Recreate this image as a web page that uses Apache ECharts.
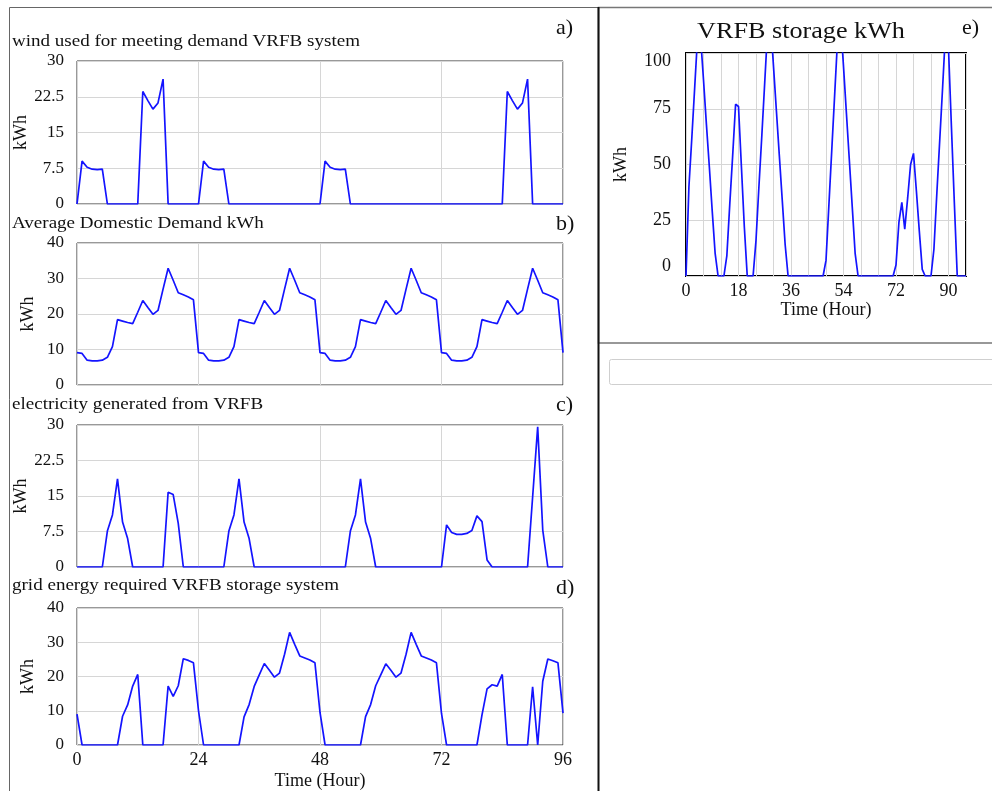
<!DOCTYPE html>
<html>
<head>
<meta charset="utf-8">
<script src="https://cdn.jsdelivr.net/npm/echarts@6/dist/echarts.min.js"></script>
<style>
html, body { margin: 0; padding: 0; background: #fff; }
#main { width: 992px; height: 791px; }
</style>
</head>
<body>
<div id="main"></div>
<script>
// Simulation time axis (hours)
const hours = [
  0, 1, 2, 3, 4, 5, 6, 7, 8, 9, 10, 11, 12, 13, 14, 15, 16, 17, 18, 19, 20, 21, 22, 23,
  24, 25, 26, 27, 28, 29, 30, 31, 32, 33, 34, 35, 36, 37, 38, 39, 40, 41, 42, 43, 44, 45, 46, 47,
  48, 49, 50, 51, 52, 53, 54, 55, 56, 57, 58, 59, 60, 61, 62, 63, 64, 65, 66, 67, 68, 69, 70, 71,
  72, 73, 74, 75, 76, 77, 78, 79, 80, 81, 82, 83, 84, 85, 86, 87, 88, 89, 90, 91, 92, 93, 94, 95,
  96
];

// a) wind used for meeting demand (kWh)
const windUsed = [
  0, 9.0, 7.7, 7.3, 7.2, 7.3, 0, 0, 0, 0, 0, 0, 0, 23.6, 21.7, 19.9, 21.2, 26.2, 0, 0, 0, 0, 0, 0,
  0, 9.0, 7.7, 7.3, 7.2, 7.3, 0, 0, 0, 0, 0, 0, 0, 0, 0, 0, 0, 0, 0, 0, 0, 0, 0, 0,
  0, 9.0, 7.7, 7.3, 7.2, 7.3, 0, 0, 0, 0, 0, 0, 0, 0, 0, 0, 0, 0, 0, 0, 0, 0, 0, 0,
  0, 0, 0, 0, 0, 0, 0, 0, 0, 0, 0, 0, 0, 23.6, 21.7, 19.9, 21.2, 26.2, 0, 0, 0, 0, 0, 0,
  0
];

// b) average domestic demand (kWh)
const demand = [
  9.1, 8.9, 7.0, 6.8, 6.8, 7.0, 7.8, 10.8, 18.4, 18.0, 17.6, 17.3, 20.5, 23.8, 21.8, 19.9, 21.0, 27.0, 32.9, 29.5, 26.0, 25.4, 24.8, 24.0,
  9.1, 8.9, 7.0, 6.8, 6.8, 7.0, 7.8, 10.8, 18.4, 18.0, 17.6, 17.3, 20.5, 23.8, 21.8, 19.9, 21.0, 27.0, 32.9, 29.5, 26.0, 25.4, 24.8, 24.0,
  9.1, 8.9, 7.0, 6.8, 6.8, 7.0, 7.8, 10.8, 18.4, 18.0, 17.6, 17.3, 20.5, 23.8, 21.8, 19.9, 21.0, 27.0, 32.9, 29.5, 26.0, 25.4, 24.8, 24.0,
  9.1, 8.9, 7.0, 6.8, 6.8, 7.0, 7.8, 10.8, 18.4, 18.0, 17.6, 17.3, 20.5, 23.8, 21.8, 19.9, 21.0, 27.0, 32.9, 29.5, 26.0, 25.4, 24.8, 24.0,
  9.1
];

// c) electricity generated from VRFB (kWh)
const vrfbOutput = [
  0, 0, 0, 0, 0, 0, 7.6, 11.0, 18.6, 9.5, 6.0, 0, 0, 0, 0, 0, 0, 0, 15.8, 15.3, 9.2, 0, 0, 0,
  0, 0, 0, 0, 0, 0, 7.6, 11.0, 18.6, 9.5, 6.0, 0, 0, 0, 0, 0, 0, 0, 0, 0, 0, 0, 0, 0,
  0, 0, 0, 0, 0, 0, 7.6, 11.0, 18.6, 9.5, 6.0, 0, 0, 0, 0, 0, 0, 0, 0, 0, 0, 0, 0, 0,
  0, 8.9, 7.3, 6.9, 6.9, 7.1, 7.7, 10.8, 9.6, 1.5, 0, 0, 0, 0, 0, 0, 0, 0, 14.8, 29.6, 7.8, 0, 0, 0,
  0
];

// d) grid energy required with VRFB storage (kWh)
const gridEnergy = [
  9.0, 0, 0, 0, 0, 0, 0, 0, 0, 8.4, 11.7, 17.2, 20.6, 0, 0, 0, 0, 0, 17.2, 14.2, 17.3, 25.2, 24.7, 24.0,
  10.0, 0, 0, 0, 0, 0, 0, 0, 0, 8.2, 11.8, 17.1, 20.5, 23.8, 21.8, 19.8, 21.0, 26.5, 32.9, 29.4, 26.0, 25.4, 24.8, 24.0,
  9.5, 0, 0, 0, 0, 0, 0, 0, 0, 8.3, 11.8, 17.3, 20.5, 23.7, 21.8, 19.8, 21.0, 26.5, 32.9, 29.4, 26.0, 25.4, 24.8, 24.0,
  9.2, 0, 0, 0, 0, 0, 0, 0, 8.8, 16.4, 17.6, 17.2, 20.6, 0, 0, 0, 0, 0, 17.0, 0, 18.6, 25.1, 24.6, 24.0,
  9.3
];

// e) VRFB storage level (kWh); peaks above the 100 kWh axis limit are clipped
const storage = [
  0, 40, 62, 85, 108, 107, 88, 68, 49, 29, 10, 0, 0, 0, 9, 32, 54, 77, 76, 49, 22, 0, 0, 0,
  16, 40, 63, 87, 111, 114, 94, 74, 54, 34, 14, 0, 0, 0, 0, 0, 0, 0, 0, 0, 0, 0, 0, 0,
  7, 32, 57, 82, 107, 114, 94, 73, 52, 31, 10, 0, 0, 0, 0, 0, 0, 0, 0, 0, 0, 0, 0, 0,
  5, 24, 33, 21, 35, 50, 55, 38, 20, 3, 0, 0, 0, 12, 37, 61, 85, 110, 102, 67, 33, 0, 0, 0,
  0
];

const SERIF = '"Liberation Serif", "Times New Roman", serif';
const INK = '#111';
const LINE = '#1414ff';
const GRIDLINE = '#d6d6d6';

const pair = arr => hours.map((h, i) => [h, arr[i]]);

const leftPanels = [
  { top: 61,  height: 143, max: 30, step: 7.5, data: windUsed },
  { top: 243, height: 142, max: 40, step: 10,  data: demand },
  { top: 425, height: 142, max: 30, step: 7.5, data: vrfbOutput },
  { top: 608, height: 140, max: 40, step: 10,  data: gridEnergy }
];

const grids = [];
const xAxes = [];
const yAxes = [];
const series = [];

leftPanels.forEach((p, i) => {
  const last = i === leftPanels.length - 1;
  grids.push({
    left: 77, top: p.top, width: 486, height: p.height,
    show: true, borderColor: '#333', borderWidth: 1, backgroundColor: 'transparent'
  });
  xAxes.push({
    gridIndex: i, type: 'value', min: 0, max: 96, interval: 24,
    axisLine: { show: false }, axisTick: { show: false },
    splitLine: { show: true, lineStyle: { color: GRIDLINE, width: 1 } },
    axisLabel: { show: last, fontFamily: SERIF, fontSize: 18, color: INK, margin: 6 },
    name: last ? 'Time (Hour)' : '',
    nameLocation: 'middle', nameGap: 27,
    nameTextStyle: { fontFamily: SERIF, fontSize: 18, color: INK }
  });
  yAxes.push({
    gridIndex: i, type: 'value', min: 0, max: p.max, interval: p.step,
    axisLine: { show: false }, axisTick: { show: false },
    splitLine: { show: true, lineStyle: { color: GRIDLINE, width: 1 } },
    axisLabel: { fontFamily: SERIF, fontSize: 17, color: INK, margin: 13 },
    name: 'kWh', nameLocation: 'middle', nameRotate: 90, nameGap: 40,
    nameTextStyle: { fontFamily: SERIF, fontSize: 18, color: INK }
  });
  series.push({
    type: 'line', xAxisIndex: i, yAxisIndex: i, data: pair(p.data),
    showSymbol: false, symbol: 'none', clip: true,
    lineStyle: { color: LINE, width: 1.7 }
  });
});

// Storage panel (e)
grids.push({
  left: 686, top: 53, width: 280, height: 223,
  show: true, borderColor: '#000', borderWidth: 2, backgroundColor: 'transparent'
});
xAxes.push({
  gridIndex: 4, type: 'value', min: 0, max: 96, interval: 6,
  axisLine: { show: false }, axisTick: { show: false },
  splitLine: { show: true, lineStyle: { color: GRIDLINE, width: 1 } },
  axisLabel: {
    fontFamily: SERIF, fontSize: 18, color: INK, margin: 6,
    formatter: v => (v % 18 === 0 && v < 96 ? String(v) : '')
  },
  name: 'Time (Hour)', nameLocation: 'middle', nameGap: 25,
  nameTextStyle: { fontFamily: SERIF, fontSize: 18, color: INK }
});
yAxes.push({
  gridIndex: 4, type: 'value', min: 0, max: 100, interval: 25,
  axisLine: { show: false }, axisTick: { show: false },
  splitLine: { show: true, lineStyle: { color: GRIDLINE, width: 1 } },
  axisLabel: {
    fontFamily: SERIF, fontSize: 18, color: INK, margin: 15,
    formatter: v => (v === 100 ? '{top|100}' : v === 0 ? '{bot|0}' : String(v)),
    rich: {
      top: { fontFamily: SERIF, fontSize: 18, color: INK, padding: [16, 0, 0, 0] },
      bot: { fontFamily: SERIF, fontSize: 18, color: INK, padding: [0, 0, 20, 0] }
    }
  },
  name: 'kWh', nameLocation: 'middle', nameRotate: 90, nameGap: 56,
  nameTextStyle: { fontFamily: SERIF, fontSize: 18, color: INK }
});
series.push({
  type: 'line', xAxisIndex: 4, yAxisIndex: 4, data: pair(storage),
  showSymbol: false, symbol: 'none', clip: true,
  lineStyle: { color: LINE, width: 1.7 }
});

// Text helper; stretch widens the lettering horizontally
const label = (text, x, y, size, align, stretch) => ({
  type: 'text', x: x, y: y, silent: true,
  scaleX: stretch || 1, scaleY: 1,
  style: {
    text: text, font: size + 'px ' + SERIF, fill: INK,
    textAlign: align || 'left', textVerticalAlign: 'middle',
    align: align || 'left', verticalAlign: 'middle'
  }
});

const graphics = [
  // page frames
  { type: 'rect', silent: true, shape: { x: 9.5, y: 7.5, width: 589, height: 800 },
    style: { fill: 'none', stroke: '#666', lineWidth: 1 } },
  { type: 'rect', silent: true, shape: { x: 598.5, y: 7.5, width: 400, height: 335.5 },
    style: { fill: 'none', stroke: '#777', lineWidth: 1.5 } },
  { type: 'line', silent: true, shape: { x1: 598.5, y1: 7, x2: 598.5, y2: 791 },
    style: { stroke: '#111', lineWidth: 2 } },
  { type: 'rect', silent: true, shape: { x: 609.5, y: 359.5, width: 390, height: 25, r: 2 },
    style: { fill: '#fff', stroke: '#cfcfcf', lineWidth: 1 } },
  // panel titles and letters
  label('wind used for meeting demand VRFB system', 12, 42, 17, 'left', 1.12),
  label('a)', 556, 28, 22),
  label('Average Domestic Demand kWh', 12, 224, 17, 'left', 1.12),
  label('b)', 556, 224, 22),
  label('electricity generated from VRFB', 12, 405, 17, 'left', 1.12),
  label('c)', 556, 405, 22),
  label('grid energy required VRFB storage system', 12, 586, 17, 'left', 1.12),
  label('d)', 556, 588, 22),
  label('VRFB storage kWh', 801, 32, 24, 'center', 1.09),
  label('e)', 962, 28, 22)
];

const chart = echarts.init(document.getElementById('main'), null, { renderer: 'canvas' });
chart.setOption({
  animation: false,
  backgroundColor: '#fff',
  grid: grids,
  xAxis: xAxes,
  yAxis: yAxes,
  series: series,
  graphic: graphics
});
</script>
</body>
</html>
